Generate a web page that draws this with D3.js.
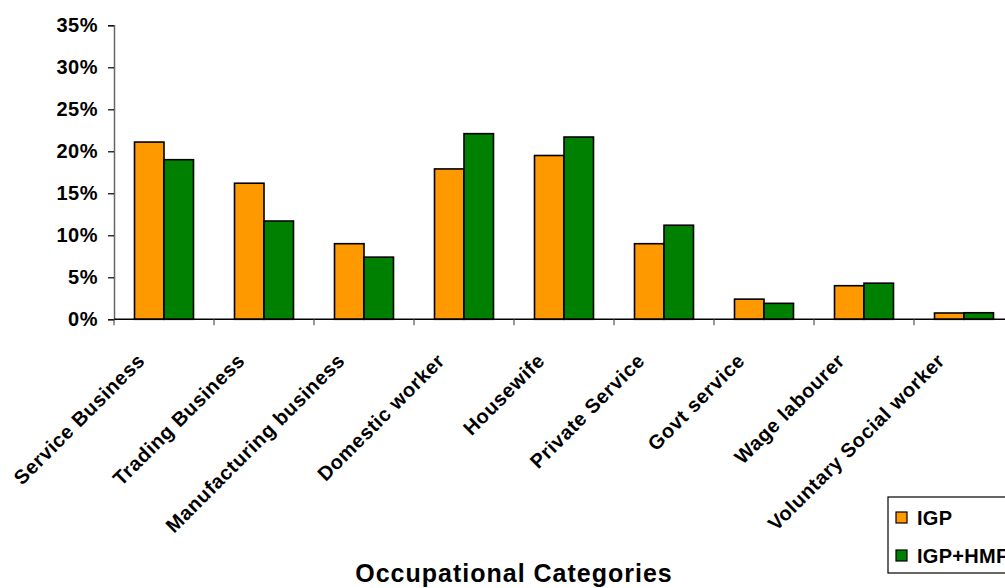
<!DOCTYPE html>
<html>
<head>
<meta charset="utf-8">
<script src="https://cdn.jsdelivr.net/npm/d3@7/dist/d3.min.js"></script>
<style>
  html, body { margin: 0; padding: 0; background: #fff; overflow: hidden; }
  svg { display: block; font-family: "Liberation Sans", Arial, sans-serif; font-weight: bold; }
</style>
</head>
<body>
<svg id="chart" width="1005" height="588"></svg>
<script>
// Occupational distribution of members, two programme groups
const categories = [
  "Service Business", "Trading Business", "Manufacturing business",
  "Domestic worker", "Housewife", "Private Service",
  "Govt service", "Wage labourer", "Voluntary Social worker"
];
const seriesNames = ["IGP", "IGP+HMF"];
const igp    = [0.211, 0.162, 0.090, 0.179, 0.195, 0.090, 0.024, 0.040, 0.0075];
const igpHmf = [0.190, 0.117, 0.074, 0.221, 0.217, 0.112, 0.019, 0.043, 0.0078];
const yTicks = [0, 0.05, 0.10, 0.15, 0.20, 0.25, 0.30, 0.35];
const colors = ["#FF9900", "#008000"];

const svg = d3.select("#chart");
const plotLeft = 114, plotRight = 1014, plotTop = 25.3, plotBottom = 319.3;

const x0 = d3.scaleBand().domain(categories).range([plotLeft, plotRight]).padding(0);
const x1 = d3.scaleBand().domain(seriesNames).range([0, x0.bandwidth()])
  .paddingInner(0).paddingOuter(0.695);
const y = d3.scaleLinear().domain([0, 0.35]).range([plotBottom, plotTop]);

const rows = categories.map((c, i) => ({ cat: c, vals: [igp[i], igpHmf[i]] }));

// Bars
const groups = svg.append("g").selectAll("g").data(rows).join("g")
  .attr("transform", d => `translate(${x0(d.cat)},0)`);
groups.selectAll("rect")
  .data(d => d.vals.map((v, k) => ({ key: seriesNames[k], v, k })))
  .join("rect")
  .attr("x", d => x1(d.key))
  .attr("y", d => y(d.v))
  .attr("width", x1.bandwidth())
  .attr("height", d => plotBottom - y(d.v))
  .attr("fill", d => colors[d.k])
  .attr("stroke", "#000")
  .attr("stroke-width", 1.6);

// Y axis
const yAxis = svg.append("g").attr("transform", `translate(${plotLeft},0)`)
  .call(d3.axisLeft(y).tickValues(yTicks).tickFormat(d3.format(".0%")).tickSize(6).tickPadding(10));
yAxis.select(".domain").attr("stroke", "#666").attr("stroke-width", 1.5);
yAxis.selectAll(".tick line").attr("stroke", "#000").attr("stroke-width", 1.2);
yAxis.selectAll(".tick text")
  .attr("font-size", 20).attr("font-weight", "bold").attr("font-family", "'Liberation Sans', Arial, sans-serif")
  .attr("letter-spacing", "0.5px")
  .attr("fill", "#000");

// X axis with ticks at category boundaries
const xAxis = svg.append("g").attr("transform", `translate(0,${plotBottom})`);
xAxis.append("line").attr("x1", plotLeft).attr("x2", plotRight).attr("y1", 0).attr("y2", 0)
  .attr("stroke", "#000").attr("stroke-width", 1.5);
xAxis.selectAll("line.tk").data(categories.concat(["_end"])).join("line")
  .attr("class", "tk")
  .attr("x1", (d, i) => plotLeft + i * x0.step()).attr("x2", (d, i) => plotLeft + i * x0.step())
  .attr("y1", 0).attr("y2", 6)
  .attr("stroke", "#555").attr("stroke-width", 1.2);

// Rotated category labels
svg.append("g").selectAll("text").data(categories).join("text")
  .attr("transform", d => `translate(${x0(d) + x0.bandwidth() / 2 - 18},362) rotate(-45)`)
  .attr("text-anchor", "end")
  .attr("font-size", 20)
  .attr("letter-spacing", "0.6px")
  .attr("fill", "#000")
  .text(d => d);

// Axis title
svg.append("text")
  .attr("x", 514).attr("y", 582)
  .attr("text-anchor", "middle")
  .attr("font-size", 25)
  .attr("letter-spacing", "1px")
  .attr("fill", "#000")
  .text("Occupational Categories");

// Legend
const lg = svg.append("g").attr("transform", "translate(888,497)");
lg.append("rect").attr("x", 0).attr("y", 0).attr("width", 140).attr("height", 76)
  .attr("fill", "#fff").attr("stroke", "#000").attr("stroke-width", 1.2);
seriesNames.forEach((name, k) => {
  lg.append("rect").attr("x", 8).attr("y", 15 + k * 38).attr("width", 11).attr("height", 11)
    .attr("fill", colors[k]).attr("stroke", "#000").attr("stroke-width", 1.2);
  lg.append("text").attr("x", 29).attr("y", 28 + k * 38)
    .attr("font-size", 20).attr("letter-spacing", "0.3px").attr("fill", "#000").text(name);
});
</script>
</body>
</html>
